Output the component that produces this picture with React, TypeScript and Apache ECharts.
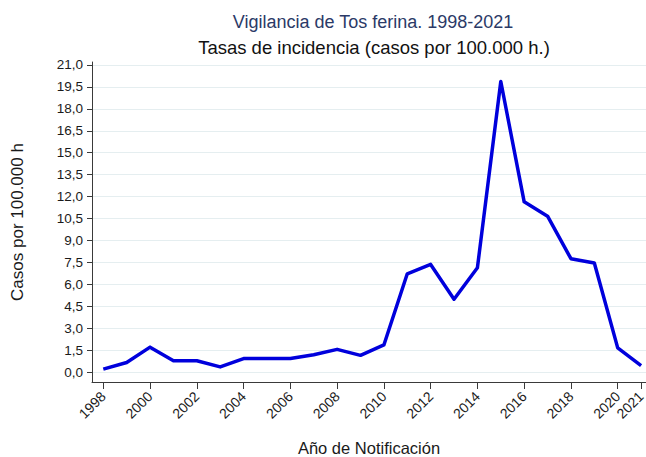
import React, { useEffect, useRef } from "react";
import * as echarts from "echarts";

const years = [1998, 1999, 2000, 2001, 2002, 2003, 2004, 2005, 2006, 2007, 2008, 2009, 2010, 2011, 2012, 2013, 2014, 2015, 2016, 2017, 2018, 2019, 2020, 2021];
const rates = [0.2, 0.65, 1.7, 0.77, 0.77, 0.35, 0.92, 0.92, 0.92, 1.18, 1.55, 1.14, 1.85, 6.72, 7.36, 4.98, 7.13, 19.87, 11.64, 10.66, 7.75, 7.45, 1.65, 0.43];
const xTickYears = [1998, 2000, 2002, 2004, 2006, 2008, 2010, 2012, 2014, 2016, 2018, 2020, 2021];
const yTicks = [0, 1.5, 3, 4.5, 6, 7.5, 9, 10.5, 12, 13.5, 15, 16.5, 18, 19.5, 21];

const titleText = "Vigilancia de Tos ferina. 1998-2021";
const subtitleText = "Tasas de incidencia (casos por 100.000 h.)";
const xName = "Año de Notificación";
const yName = "Casos por 100.000 h";

const FONT = "'Liberation Sans', Arial, Helvetica, sans-serif";

export default function App() {
  const ref = useRef<HTMLDivElement>(null);
  useEffect(() => {
    if (!ref.current) return;
    const chart = echarts.init(ref.current, null, { renderer: "svg" });
    chart.setOption({
      animation: false,
      backgroundColor: "#ffffff",
      textStyle: { fontFamily: FONT },
      grid: { left: 92, right: 0, top: 62, bottom: 75, containLabel: false, outerBoundsMode: "none" },
      graphic: [
        {
          type: "text",
          x: 373,
          y: 22,
          style: { text: titleText, fontSize: 18, fontFamily: FONT, fill: "#2b3a67", align: "center", verticalAlign: "middle" },
        },
        {
          type: "text",
          x: 374,
          y: 47,
          style: { text: subtitleText, fontSize: 18.5, fontFamily: FONT, fill: "#111111", align: "center", verticalAlign: "middle" },
        },
      ],
      xAxis: {
        type: "value",
        min: 1997.517,
        max: 2021.21,
        name: xName,
        nameLocation: "middle",
        nameGap: 57,
        nameTextStyle: { fontSize: 16.5, color: "#1a1a1a", fontFamily: FONT },
        axisLine: { show: true, onZero: false, lineStyle: { color: "#3a3a3a", width: 1 } },
        axisTick: { show: true, length: 7, customValues: xTickYears, lineStyle: { color: "#3a3a3a", width: 1 } },
        axisLabel: {
          customValues: xTickYears,
          rotate: 45,
          fontSize: 14,
          color: "#1a1a1a",
          margin: 12,
          formatter: (v: number) => String(v),
        },
        splitLine: { show: false },
      },
      yAxis: {
        type: "value",
        min: -0.684,
        max: 21.205,
        name: yName,
        nameLocation: "middle",
        nameGap: 66,
        nameRotate: 90,
        nameTextStyle: { fontSize: 17, color: "#1a1a1a", fontFamily: FONT },
        axisLine: { show: true, onZero: false, lineStyle: { color: "#3a3a3a", width: 1 } },
        axisTick: { show: true, length: 5, customValues: yTicks, lineStyle: { color: "#3a3a3a", width: 1 } },
        axisLabel: {
          customValues: yTicks,
          fontSize: 13.5,
          color: "#1a1a1a",
          margin: 9,
          formatter: (v: number) => v.toFixed(1).replace(".", ","),
        },
        splitLine: { show: true, lineStyle: { color: "#e5eef0", width: 1 } },
      },
      series: [
        {
          type: "line",
          data: years.map((y, i) => [y, rates[i]]),
          showSymbol: false,
          symbol: "none",
          lineStyle: { color: "#0000dc", width: 3.5, join: "round" },
          z: 3,
        },
      ],
    });
    return () => chart.dispose();
  }, []);
  return <div ref={ref} style={{ position: "fixed", left: 0, top: 0, width: 646, height: 457 }} />;
}
